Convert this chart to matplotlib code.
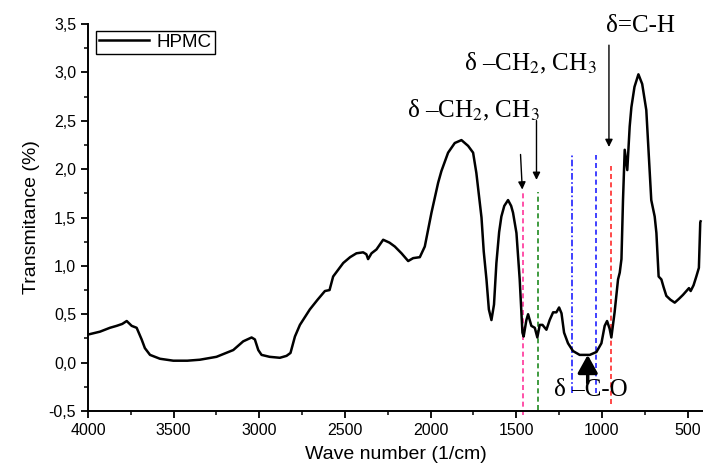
import matplotlib
matplotlib.use("Agg")
import matplotlib.pyplot as plt
from matplotlib.ticker import MultipleLocator, FuncFormatter

# HPMC FTIR spectrum
wavenumber = [4000, 3930, 3872, 3833, 3800, 3774, 3745, 3716, 3687, 3668, 3638, 3580,
              3502, 3420, 3347, 3250, 3152, 3094, 3045, 3026, 3006, 2987, 2940, 2880,
              2841, 2818, 2792, 2763, 2705, 2660, 2617, 2590, 2569, 2510, 2470, 2433,
              2394, 2375, 2365, 2345, 2316, 2277, 2240, 2209, 2170, 2131, 2102, 2063,
              2034, 1995, 1956, 1937, 1898, 1859, 1820, 1781, 1752, 1733, 1713, 1703,
              1690, 1674, 1660, 1645, 1630, 1616, 1600, 1587, 1570, 1548, 1530, 1519,
              1499, 1480, 1464, 1457, 1441, 1431, 1412, 1392, 1377, 1363, 1347, 1324,
              1305, 1285, 1266, 1250, 1236, 1221, 1198, 1169, 1130, 1100, 1071, 1032,
              1003, 984, 970, 955, 945, 926, 906, 896, 886, 877, 867, 852,
              838, 828, 810, 787, 765, 741, 712, 692, 682, 669, 653, 640,
              624, 600, 575, 550, 527, 492, 482, 465, 449, 434, 426, 424]
transmittance = [0.29, 0.32, 0.36, 0.38, 0.40, 0.43, 0.38, 0.36, 0.24, 0.15, 0.08, 0.04,
                 0.02, 0.02, 0.03, 0.06, 0.13, 0.22, 0.26, 0.24, 0.13, 0.08, 0.06, 0.05,
                 0.07, 0.10, 0.27, 0.39, 0.55, 0.65, 0.74, 0.75, 0.89, 1.03, 1.09, 1.13,
                 1.14, 1.12, 1.07, 1.13, 1.17, 1.27, 1.24, 1.20, 1.13, 1.05, 1.08, 1.09,
                 1.20, 1.55, 1.86, 1.98, 2.17, 2.27, 2.30, 2.24, 2.17, 1.96, 1.65, 1.50,
                 1.15, 0.86, 0.55, 0.44, 0.60, 1.03, 1.35, 1.51, 1.62, 1.68, 1.62, 1.55,
                 1.34, 0.86, 0.31, 0.27, 0.44, 0.50, 0.38, 0.36, 0.26, 0.39, 0.39, 0.34,
                 0.44, 0.52, 0.52, 0.57, 0.51, 0.31, 0.20, 0.12, 0.08, 0.08, 0.08, 0.11,
                 0.20, 0.38, 0.43, 0.35, 0.26, 0.52, 0.86, 0.93, 1.07, 1.68, 2.20, 1.99,
                 2.44, 2.64, 2.85, 2.98, 2.88, 2.61, 1.68, 1.51, 1.34, 0.89, 0.86, 0.78,
                 0.69, 0.65, 0.62, 0.66, 0.70, 0.77, 0.74, 0.80, 0.89, 0.98, 1.45, 1.46]

# marker lines: position, top, bottom
band_pos = [1458, 1373, 1176, 1032, 945]
band_top = [1.76, 1.76, 2.15, 2.15, 2.03]
band_bottom = [-0.54, -0.49, -0.31, -0.31, -0.43]
band_colors = ['#ff3399', '#1f8a1f', '#2020ff', '#2020ff', '#ff2a2a']
band_styles = [(0, (3, 2)), (0, (3, 2)), (0, (4, 1.5, 1, 1.5)), (0, (3, 2)), (0, (3, 2))]

fig = plt.figure(figsize=(7.03, 4.67), dpi=100)
ax = fig.add_axes([88 / 703, 56 / 467, 615 / 703, 387 / 467])

ax.plot(wavenumber, transmittance, color='black', lw=1.8, label='HPMC', zorder=3)

for x, t, b, c, s in zip(band_pos, band_top, band_bottom, band_colors, band_styles):
    ax.plot([x, x], [b, t], color=c, linestyle=s, lw=1.2, clip_on=False, zorder=2)

plt.rcParams['mathtext.fontset'] = 'stix'
serif = dict(family='Liberation Serif', fontsize=18, ha='center', va='center')

ax.annotate('', xy=(1464, 1.76), xytext=(1476, 2.18),
            arrowprops=dict(arrowstyle='-|>', color='black', lw=1, mutation_scale=11))
ax.annotate('', xy=(1382, 1.86), xytext=(1382, 2.53),
            arrowprops=dict(arrowstyle='-|>', color='black', lw=1, mutation_scale=11))
ax.annotate('', xy=(959, 2.20), xytext=(959, 3.31),
            arrowprops=dict(arrowstyle='-|>', color='black', lw=1, mutation_scale=11))
ax.annotate('', xy=(1083, 0.08), xytext=(1083, -0.21), annotation_clip=False,
            arrowprops=dict(arrowstyle='-|>,head_length=0.9,head_width=0.5',
                            color='black', lw=2.5, mutation_scale=12, shrinkA=0, shrinkB=0))

ax.text(1748, 2.61, r'δ –CH$_2$, CH$_3$', **serif)
ax.text(1416, 3.09, r'δ –CH$_2$, CH$_3$', **serif)
ax.text(777, 3.48, 'δ=C-H', clip_on=False, **serif)
ax.text(1066, -0.28, 'δ –C-O', clip_on=False, **serif)

ax.set_xlim(4000, 410)
ax.set_ylim(-0.5, 3.5)
ax.xaxis.set_major_locator(MultipleLocator(500))
ax.xaxis.set_minor_locator(MultipleLocator(250))
ax.yaxis.set_major_locator(MultipleLocator(0.5))
ax.yaxis.set_minor_locator(MultipleLocator(0.25))
ax.yaxis.set_major_formatter(FuncFormatter(lambda v, p: f'{v:.1f}'.replace('.', ',')))

for side in ['top', 'right']:
    ax.spines[side].set_visible(False)
for side in ['left', 'bottom']:
    ax.spines[side].set_linewidth(1.4)
ax.tick_params(which='major', direction='out', length=5, width=1.3, labelsize=11.5)
ax.tick_params(which='minor', direction='out', length=3, width=1.1)
for lab in ax.get_xticklabels() + ax.get_yticklabels():
    lab.set_family('Liberation Sans')

ax.set_xlabel('Wave number (1/cm)', family='Liberation Sans', fontsize=14, labelpad=6)
ax.set_ylabel('Transmitance (%)', family='Liberation Sans', fontsize=14, labelpad=6)

leg = ax.legend(loc='upper left', bbox_to_anchor=(0.013, 0.982), fancybox=False,
                edgecolor='black', framealpha=1, borderpad=0.15, handlelength=2.7,
                handletextpad=0.4, borderaxespad=0,
                prop={'family': 'Liberation Sans', 'size': 13.5})
leg.get_frame().set_linewidth(1.0)

fig.savefig('out.png', dpi=100)
